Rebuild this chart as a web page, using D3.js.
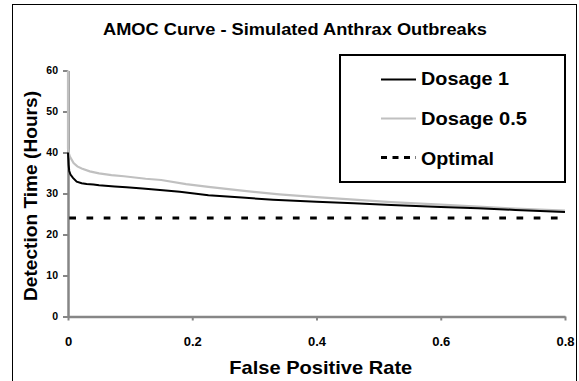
<!DOCTYPE html>
<html>
<head>
<meta charset="utf-8">
<script src="https://cdn.jsdelivr.net/npm/d3@7"></script>
<style>
  html, body { margin: 0; padding: 0; background: #fff; }
  svg { display: block; }
  text { font-family: "Liberation Sans", Arial, sans-serif; font-weight: bold; fill: #000; }
</style>
</head>
<body>
<script>
// ---- data ----
const titleText = "AMOC Curve - Simulated Anthrax Outbreaks";
const xLabel = "False Positive Rate";
const yLabel = "Detection Time (Hours)";
const xTicks = [0, 0.2, 0.4, 0.6, 0.8];
const yTicks = [0, 10, 20, 30, 40, 50, 60];

const dosage1FPR = [0, 0.0005, 0.001, 0.002, 0.004, 0.008, 0.014, 0.022, 0.03, 0.041, 0.05, 0.075, 0.094, 0.12, 0.148, 0.18, 0.226, 0.28, 0.33, 0.4, 0.46, 0.52, 0.6, 0.66, 0.72, 0.8];
const dosage1Time = [40, 38.5, 37, 35.5, 34.6, 33.8, 32.9, 32.5, 32.3, 32.2, 32.0, 31.7, 31.5, 31.2, 30.85, 30.4, 29.6, 29.0, 28.5, 28.0, 27.6, 27.2, 26.7, 26.4, 26.0, 25.5];

const dosage05FPR = [0, 0, 0.001, 0.003, 0.009, 0.015, 0.022, 0.035, 0.05, 0.07, 0.09, 0.125, 0.15, 0.19, 0.226, 0.28, 0.34, 0.4, 0.46, 0.52, 0.6, 0.66, 0.72, 0.8];
const dosage05Time = [60, 41, 40, 39, 37.4, 36.6, 36.1, 35.4, 34.9, 34.5, 34.2, 33.6, 33.3, 32.3, 31.6, 30.7, 29.8, 29.1, 28.5, 27.9, 27.3, 26.8, 26.3, 25.8];

const optimalFPR = [0, 0.8];
const optimalTime = [24, 24];

const legendLabels = ["Dosage 1", "Dosage 0.5", "Optimal"];

// ---- chart ----
const W = 579, H = 381;
const svg = d3.select("body").append("svg").attr("width", W).attr("height", H);

// outer border
svg.append("rect").attr("x", 12.5).attr("y", 4.5).attr("width", 564).attr("height", 400)
  .attr("fill", "#fff").attr("stroke", "#000").attr("stroke-width", 1);

const x = d3.scaleLinear().domain([0, 0.8]).range([68, 565]);
const y = d3.scaleLinear().domain([0, 60]).range([316.5, 70.5]);

// title
svg.append("text").attr("x", 295).attr("y", 34.5).attr("text-anchor", "middle")
  .attr("font-size", 16.5).attr("textLength", 384).attr("lengthAdjust", "spacingAndGlyphs").text(titleText);

// y axis
const yAxis = svg.append("g").attr("transform", `translate(${x(0)},0)`)
  .call(d3.axisLeft(y).tickValues(yTicks).tickSize(5).tickSizeOuter(0).tickPadding(5).tickFormat(d3.format("d")));
yAxis.selectAll("text").attr("font-size", 10.5).style("font-family", "Liberation Sans, Arial, sans-serif").style("font-weight", "bold");

// x axis
const xAxis = svg.append("g").attr("transform", `translate(0,${y(0)})`)
  .call(d3.axisBottom(x).tickValues(xTicks).tickSize(4).tickSizeOuter(0).tickPadding(16).tickFormat(d => d === 0 ? "0" : d3.format(".1f")(d)));
xAxis.selectAll("text").attr("font-size", 13).style("font-family", "Liberation Sans, Arial, sans-serif").style("font-weight", "bold");

[xAxis, yAxis].forEach(a => {
  a.select(".domain").attr("stroke", "#868686").attr("stroke-width", 2.5);
  a.selectAll(".tick line").attr("stroke", "#868686").attr("stroke-width", 2);
});

// axis titles
svg.append("text").attr("x", 320.8).attr("y", 374).attr("text-anchor", "middle")
  .attr("font-size", 18.5).attr("textLength", 183).attr("lengthAdjust", "spacingAndGlyphs").text(xLabel);
svg.append("text").attr("transform", "translate(36.5,196) rotate(-90)").attr("text-anchor", "middle")
  .attr("font-size", 18.5).attr("textLength", 210).attr("lengthAdjust", "spacingAndGlyphs").text(yLabel);

// lines
const line = d3.line().x(d => x(d[0])).y(d => y(d[1]));
const d05 = dosage05FPR.map((f, i) => [f, dosage05Time[i]]);
const d1 = dosage1FPR.map((f, i) => [f, dosage1Time[i]]);
const dOpt = optimalFPR.map((f, i) => [f, optimalTime[i]]);

svg.append("path").datum(dOpt).attr("d", line).attr("fill", "none")
  .attr("stroke", "#000").attr("stroke-width", 3).attr("stroke-dasharray", "6.7,10.5")
  .attr("transform", "translate(1.3,0)");
svg.append("path").datum(d05).attr("d", line).attr("fill", "none")
  .attr("stroke", "#c0c0c0").attr("stroke-width", 2.2);
svg.append("path").datum(d1).attr("d", line).attr("fill", "none")
  .attr("stroke", "#000").attr("stroke-width", 2);

// legend
const lg = svg.append("g");
lg.append("rect").attr("x", 340).attr("y", 55).attr("width", 225).attr("height", 127)
  .attr("fill", "#fff").attr("stroke", "#000").attr("stroke-width", 2);
const legendStyles = [
  { stroke: "#000", width: 2, dash: null, ly: 79.5, ty: 85, tl: 88 },
  { stroke: "#c0c0c0", width: 2, dash: null, ly: 118.5, ty: 125, tl: 106 },
  { stroke: "#000", width: 3, dash: "6,5.5", ly: 157.5, ty: 165, tl: 73 }
];
legendLabels.forEach((lab, i) => {
  const s = legendStyles[i];
  const ln = lg.append("line").attr("x1", 381).attr("x2", 416).attr("y1", s.ly).attr("y2", s.ly)
    .attr("stroke", s.stroke).attr("stroke-width", s.width);
  if (s.dash) ln.attr("stroke-dasharray", s.dash);
  lg.append("text").attr("x", 421).attr("y", s.ty).attr("font-size", 18.5)
    .attr("textLength", s.tl).attr("lengthAdjust", "spacingAndGlyphs").text(lab);
});
</script>
</body>
</html>
